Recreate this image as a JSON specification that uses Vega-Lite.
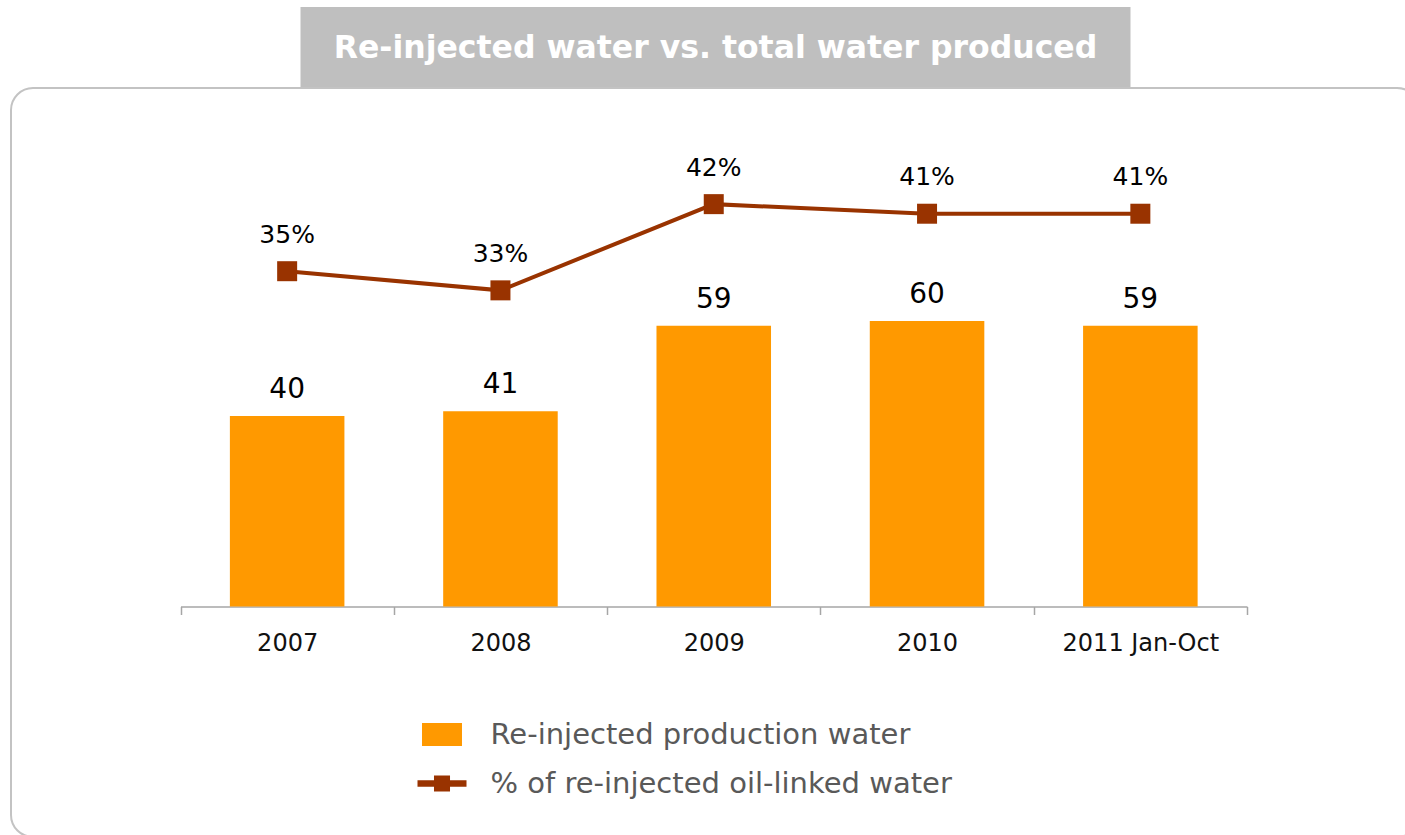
{
  "$schema": "https://vega.github.io/schema/vega-lite/v6.json",
  "padding": {"left": 10, "top": 7, "right": 0, "bottom": 0},
  "background": "white",
  "spacing": 0,
  "center": true,
  "config": {"font": "DejaVu Sans", "view": {"stroke": null}},
  "datasets": {
    "heading": [{"text": "Re-injected water vs. total water produced"}],
    "water": [
      {"year": "2007", "reinjected": 40, "share": 0.35},
      {"year": "2008", "reinjected": 41, "share": 0.33},
      {"year": "2009", "reinjected": 59, "share": 0.42},
      {"year": "2010", "reinjected": 60, "share": 0.41},
      {"year": "2011 Jan-Oct", "reinjected": 59, "share": 0.41}
    ]
  },
  "vconcat": [
    {
      "width": 830,
      "height": 80,
      "view": {"fill": "#bfbfbf", "stroke": null},
      "data": {"name": "heading"},
      "mark": {"type": "text", "font": "DejaVu Sans", "fontWeight": "bold", "fontSize": 31.5, "color": "white", "baseline": "alphabetic", "dy": 10.5},
      "encoding": {"text": {"field": "text", "type": "nominal"}}
    },
    {
      "width": 1408,
      "height": 749,
      "view": {"stroke": "#c3c3c3", "strokeWidth": 2, "cornerRadius": 22},
      "data": {"name": "water"},
      "encoding": {
        "x": {
          "field": "year",
          "type": "nominal",
          "sort": null,
          "scale": {"range": [169.5, 1236], "paddingInner": 0, "paddingOuter": 0},
          "axis": {
            "title": null,
            "orient": "bottom",
            "offset": -230.5,
            "tickBand": "extent",
            "grid": false,
            "domainColor": "#a6a6a6",
            "domainWidth": 1.5,
            "tickColor": "#a6a6a6",
            "tickWidth": 1.5,
            "tickSize": 8,
            "labelAngle": 0,
            "labelFont": "DejaVu Sans",
            "labelFontSize": 24,
            "labelColor": "#111111",
            "labelPadding": 17
          }
        }
      },
      "layer": [
        {
          "mark": {"type": "bar", "width": {"band": 0.537}},
          "encoding": {
            "y": {"field": "reinjected", "type": "quantitative", "scale": {"domain": [0, 100], "range": [518.5, 42.5]}, "axis": null},
            "color": {
              "datum": "Re-injected production water",
              "type": "nominal",
              "scale": {
                "domain": ["Re-injected production water", "% of re-injected oil-linked water"],
                "range": ["#FF9900", "#993300"]
              },
              "legend": {
                "title": null,
                "orient": "none",
                "legendX": 406.5,
                "legendY": 622,
                "direction": "vertical",
                "padding": 0,
                "rowPadding": 9,
                "symbolSize": 2401,
                "labelFont": "DejaVu Sans",
                "labelFontSize": 29,
                "labelColor": "#595959",
                "labelOffset": 24,
                "labelLimit": 1000,
                "labelBaseline": "middle",
                "encode": {
                  "symbols": {
                    "update": {
                      "shape": {"signal": "datum.value === 'Re-injected production water' ? 'M-0.816,-0.469H0.816V0.469H-0.816Z' : 'M-1,-0.133H1V0.133H-1Z M-0.327,-0.327H0.327V0.327H-0.327Z'"},
                      "fill": {"signal": "datum.value === 'Re-injected production water' ? '#FF9900' : '#993300'"},
                      "strokeWidth": {"value": 0},
                      "opacity": {"value": 1}
                    }
                  }
                }
              }
            }
          }
        },
        {
          "mark": {"type": "text", "fontSize": 28, "baseline": "alphabetic", "dy": -18, "color": "#000000"},
          "encoding": {
            "y": {"field": "reinjected", "type": "quantitative", "scale": {"domain": [0, 100], "range": [518.5, 42.5]}, "axis": null},
            "text": {"field": "reinjected", "type": "quantitative"}
          }
        },
        {
          "mark": {"type": "line", "strokeWidth": 4, "point": {"shape": "square", "size": 400, "filled": true, "opacity": 1}},
          "encoding": {
            "y": {"field": "share", "type": "quantitative", "scale": {"domain": [0, 0.5], "range": [518.5, 39.5]}, "axis": null},
            "color": {"datum": "% of re-injected oil-linked water", "type": "nominal"}
          }
        },
        {
          "mark": {"type": "text", "fontSize": 25, "baseline": "alphabetic", "dy": -28.5, "color": "#000000"},
          "encoding": {
            "y": {"field": "share", "type": "quantitative", "scale": {"domain": [0, 0.5], "range": [518.5, 39.5]}, "axis": null},
            "text": {"field": "share", "type": "quantitative", "format": ".0%"}
          }
        }
      ],
      "resolve": {"scale": {"y": "independent"}}
    }
  ],
  "resolve": {"scale": {"color": "independent"}, "legend": {"color": "independent"}}
}
